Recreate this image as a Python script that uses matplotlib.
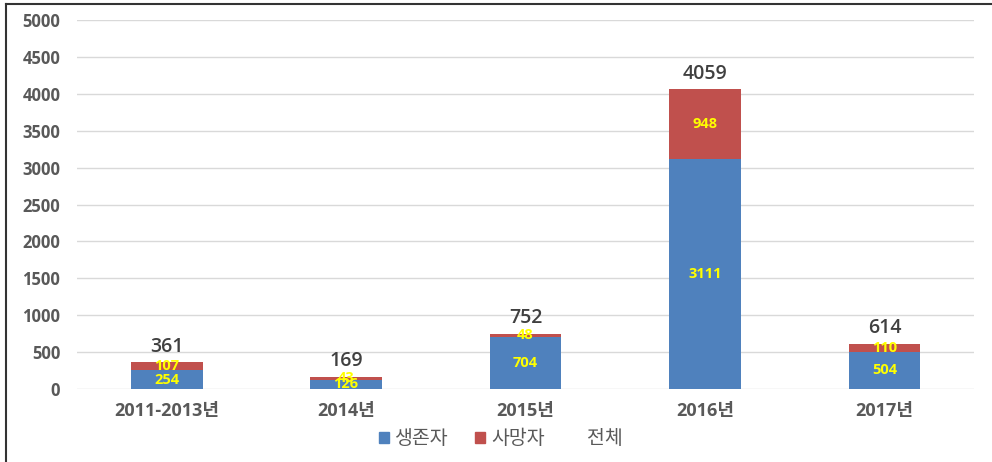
import matplotlib.pyplot as plt
from matplotlib.patches import Patch
from matplotlib.lines import Line2D
import numpy as np

plt.rcParams['font.family'] = ['Open Sans', 'Noto Sans CJK KR', 'DejaVu Sans']

categories = ['2011-2013년', '2014년', '2015년', '2016년', '2017년']
survivors = [254, 126, 704, 3111, 504]
deaths = [107, 43, 48, 948, 110]
totals = [361, 169, 752, 4059, 614]

blue = '#4F81BD'
red = '#C0504D'
text_gray = '#404040'

fig = plt.figure(figsize=(9.92, 4.62), dpi=100)
ax = fig.add_axes([0.0776, 0.158, 0.9044, 0.7987])

x = np.arange(len(categories))
w = 0.4
ax.bar(x, survivors, w, color=blue, zorder=3)
ax.bar(x, deaths, w, bottom=survivors, color=red, zorder=3)

for i in range(len(x)):
    ax.text(x[i], survivors[i] / 2, str(survivors[i]), ha='center', va='center',
            color='#FFFF00', fontsize=10.5, fontweight='bold', zorder=4)
    ax.text(x[i], survivors[i] + deaths[i] / 2, str(deaths[i]), ha='center', va='center',
            color='#FFFF00', fontsize=10.5, fontweight='bold', zorder=4)
    ax.annotate(str(totals[i]), (x[i], totals[i]), xytext=(0, 11), textcoords='offset points',
                ha='center', va='center', fontsize=14, fontweight='semibold', color=text_gray)

ax.set_xlim(-0.5, len(x) - 0.5)
ax.set_ylim(0, 5000)
ax.set_yticks(np.arange(0, 5001, 500))
ax.set_xticks(x)
ax.set_xticklabels(categories, fontsize=13, fontweight='bold', color='#595959')
ax.tick_params(axis='y', labelsize=12, labelcolor='#595959', length=0, pad=12)
ax.tick_params(axis='x', length=0, pad=9)
for lbl in ax.get_yticklabels():
    lbl.set_fontweight('bold')
ax.grid(axis='y', color='#D9D9D9', linewidth=1, zorder=0)
for s in ax.spines.values():
    s.set_visible(False)

handles = [Patch(color=blue), Patch(color=red), Line2D([], [], color='none')]
fig.legend(handles, ['생존자', '사망자', '전체'], loc='center', bbox_to_anchor=(0.505, 0.05),
           ncol=3, frameon=False, fontsize=14, handlelength=0.5, handleheight=0.5,
           handletextpad=0.3, columnspacing=1.4, labelcolor='#595959')

# frame lines on the top and left of the picture
fig.add_artist(Line2D([0.006, 0.006], [0, 0.992], color='#333333', lw=1.5, transform=fig.transFigure))
fig.add_artist(Line2D([0.006, 1], [0.992, 0.992], color='#333333', lw=1.5, transform=fig.transFigure))

fig.savefig('out.png', dpi=100, facecolor='white')
